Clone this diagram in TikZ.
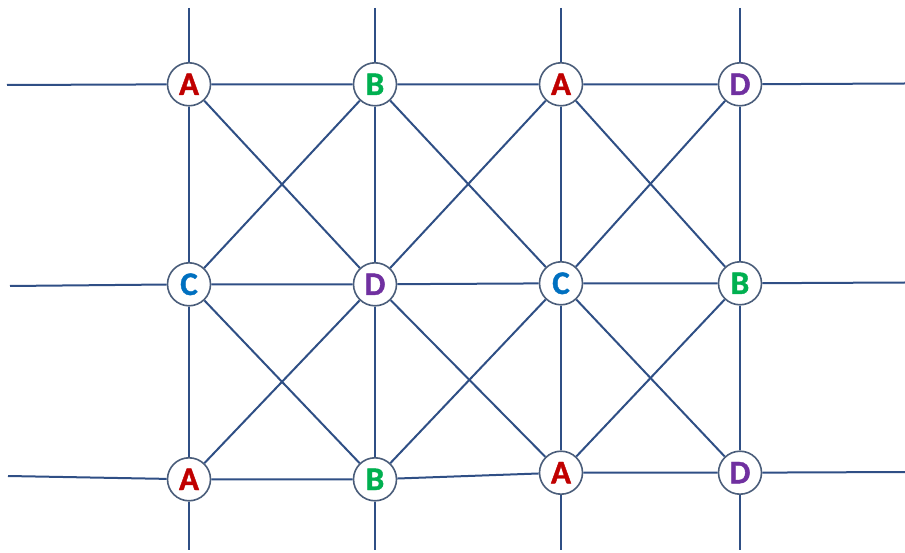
\documentclass[tikz,border=0pt]{standalone}
\usepackage{fontspec}
\setmainfont{Carlito}
\newfontfamily\lblfont{Carlito Bold}[FakeBold=1.2]
\definecolor{linec}{HTML}{2F4F85}
\definecolor{ringc}{HTML}{4A5D7A}
\definecolor{cA}{HTML}{C00000}
\definecolor{cB}{HTML}{00B050}
\definecolor{cC}{HTML}{0070C0}
\definecolor{cD}{HTML}{7030A0}
\tikzset{
  vtx/.style={circle, draw=ringc, line width=1.6pt, fill=white, minimum size=43pt, inner sep=0pt, font=\lblfont\fontsize{33}{33}\selectfont},
  wire/.style={draw=linec, line width=2pt},
}
\begin{document}
\begin{tikzpicture}[x=1pt,y=1pt]
\useasboundingbox (0,0) rectangle (905,552);
% nodes (y = 552 - image y)
\node[vtx, text=cA] (n11) at (189,467.7) {A};
\node[vtx, text=cB] (n12) at (375,467.7) {B};
\node[vtx, text=cA] (n13) at (561,467.7) {A};
\node[vtx, text=cD] (n14) at (740,467.7) {D};
\node[vtx, text=cC] (n21) at (189,267.7) {C};
\node[vtx, text=cD] (n22) at (375,267.7) {D};
\node[vtx, text=cC] (n23) at (561,268.7) {C};
\node[vtx, text=cB] (n24) at (740,268.7) {B};
\node[vtx, text=cA] (n31) at (189,72.7) {A};
\node[vtx, text=cB] (n32) at (375,72.7) {B};
\node[vtx, text=cA] (n33) at (561,79.3) {A};
\node[vtx, text=cD] (n34) at (740,79.3) {D};
% free ends
\coordinate (l1) at (7,467);
\coordinate (r1) at (905,468.5);
\coordinate (l2) at (10,266);
\coordinate (r2) at (905,269.5);
\coordinate (l3) at (8,76);
\coordinate (r3) at (905,80);
\coordinate (t1) at (189,544);
\coordinate (t2) at (375,544);
\coordinate (t3) at (561,544);
\coordinate (t4) at (740,544);
\coordinate (b1) at (189,2);
\coordinate (b2) at (375,2);
\coordinate (b3) at (561,2);
\coordinate (b4) at (740,2);
% horizontal
\draw[wire] (l1) -- (n11) -- (n12) -- (n13) -- (n14) -- (r1);
\draw[wire] (l2) -- (n21) -- (n22) -- (n23) -- (n24) -- (r2);
\draw[wire] (l3) -- (n31) -- (n32) -- (n33) -- (n34) -- (r3);
% vertical
\draw[wire] (t1) -- (n11) -- (n21) -- (n31) -- (b1);
\draw[wire] (t2) -- (n12) -- (n22) -- (n32) -- (b2);
\draw[wire] (t3) -- (n13) -- (n23) -- (n33) -- (b3);
\draw[wire] (t4) -- (n14) -- (n24) -- (n34) -- (b4);
% diagonals
\draw[wire] (n11) -- (n22); \draw[wire] (n12) -- (n21);
\draw[wire] (n12) -- (n23); \draw[wire] (n13) -- (n22);
\draw[wire] (n13) -- (n24); \draw[wire] (n14) -- (n23);
\draw[wire] (n21) -- (n32); \draw[wire] (n22) -- (n31);
\draw[wire] (n22) -- (n33); \draw[wire] (n23) -- (n32);
\draw[wire] (n23) -- (n34); \draw[wire] (n24) -- (n33);
\end{tikzpicture}
\end{document}
